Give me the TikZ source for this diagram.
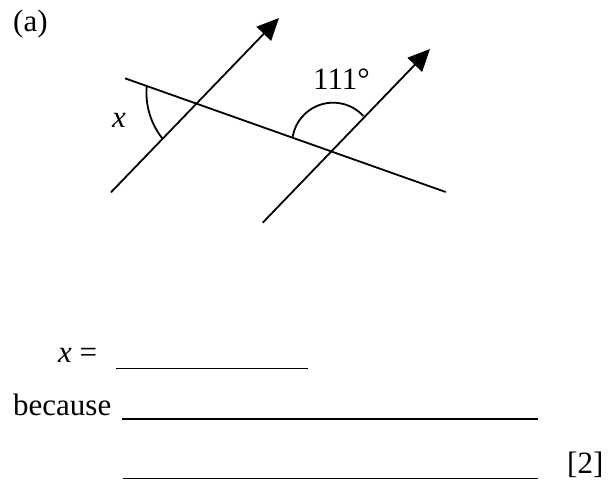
\documentclass[tikz,border=0pt]{standalone}
\usepackage{fontspec}
\setmainfont{Liberation Serif}
\usetikzlibrary{arrows.meta}
\begin{document}
\begin{tikzpicture}[x=1pt,y=-1pt,
  geoline/.style={line width=1.8pt,line cap=butt},
  arrowline/.style={geoline,-{Triangle[length=22pt,width=20pt]}},
  anglearc/.style={line width=1.8pt},
  answerline/.style={line width=1.5pt},
  lbl/.style={inner sep=0pt,anchor=base west,font=\fontsize{31}{36}\selectfont}]
\useasboundingbox (0,0) rectangle (612,484);
% coordinates
\coordinate (L1) at (111,192.3);
\coordinate (L2) at (279,18);
\coordinate (R1) at (262.7,222.7);
\coordinate (R2) at (430,49);
\coordinate (T1) at (125,78.3);
\coordinate (T2) at (445.7,192);
\coordinate (XA) at (146.7,86.7);
\coordinate (YA) at (292.7,136.7);
% lines
\draw[arrowline] (L1) -- (L2);
\draw[arrowline] (R1) -- (R2);
\draw[geoline] (T1) -- (T2);
% angle arcs
\draw[anglearc] (XA) arc[start angle=175.3,end angle=218.3,radius=73.6pt];
\draw[anglearc] (YA) arc[start angle=170.2,end angle=42.5,radius=41pt];
% labels
\node[lbl] (a) at (13,31.7) {(a)};
\node[lbl] (xl) at (112,128) {\itshape x};
\node[lbl] (ang) at (313,90) {111°};
\node[lbl] (xeq) at (58,362) {\textit{x} =};
\node[lbl] (bec) at (13,415) {because};
\node[lbl] (mk) at (567,473) {[2]};
% answer lines
\coordinate (U1a) at (116,368.5);
\coordinate (U1b) at (308,368.5);
\coordinate (U2a) at (122,419);
\coordinate (U2b) at (538,419);
\coordinate (U3a) at (123,478.5);
\coordinate (U3b) at (538,478.5);
\draw[answerline] (U1a) -- (U1b);
\draw[answerline] (U2a) -- (U2b);
\draw[answerline] (U3a) -- (U3b);
\end{tikzpicture}
\end{document}
